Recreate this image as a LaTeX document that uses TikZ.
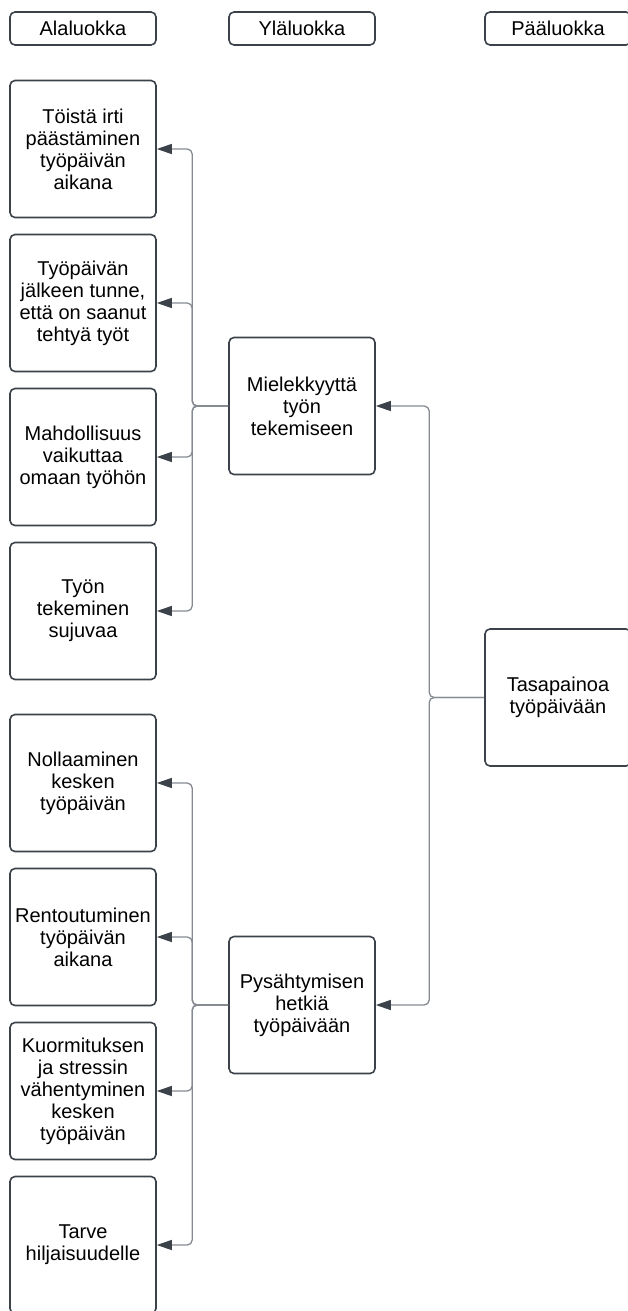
\documentclass[tikz,border=0pt]{standalone}
\usepackage{fontspec}
\setmainfont{Liberation Sans}
\usetikzlibrary{arrows.meta}

\definecolor{boxline}{HTML}{3C424A}
\definecolor{connline}{HTML}{858A91}
\definecolor{tipcol}{HTML}{3C424A}

\tikzset{
  luokka/.style={draw=boxline, line width=1.6pt, rounded corners=5pt,
    minimum width=146pt, minimum height=137pt, inner sep=0pt,
    align=center, font=\fontsize{20}{22}\selectfont},
  otsikko/.style={luokka, minimum height=33pt},
  conn/.style={draw=connline, line width=1.3pt, rounded corners=5pt,
    -{Triangle[length=15pt,width=10pt,color=tipcol]}}
}

\begin{document}
\begin{tikzpicture}[x=1pt,y=-1pt]
	\useasboundingbox (0,0) rectangle (627,1311);

	% headers
	\node[otsikko] (hAla) at (83,28.5) {Alaluokka};
	\node[otsikko] (hYla) at (302,28.5) {Yläluokka};
	\node[otsikko] (hPaa) at (558,28.5) {Pääluokka};

	% main category
	\node[luokka] (paa) at (558,697.5) {Tasapainoa\\työpäivään};

	% upper categories
	\node[luokka] (yla1) at (302,406) {Mielekkyyttä\\työn\\tekemiseen};
	\node[luokka] (yla2) at (302,1005) {Pysähtymisen\\hetkiä\\työpäivään};

	% sub categories
	\node[luokka] (ala1) at (83,149) {Töistä irti\\päästäminen\\työpäivän\\aikana};
	\node[luokka] (ala2) at (83,303) {Työpäivän\\jälkeen tunne,\\että on saanut\\tehtyä työt};
	\node[luokka] (ala3) at (83,457) {Mahdollisuus\\vaikuttaa\\omaan työhön};
	\node[luokka] (ala4) at (83,611) {Työn\\tekeminen\\sujuvaa};
	\node[luokka] (ala5) at (83,783) {Nollaaminen\\kesken\\työpäivän};
	\node[luokka] (ala6) at (83,937) {Rentoutuminen\\työpäivän\\aikana};
	\node[luokka] (ala7) at (83,1091) {Kuormituksen\\ja stressin\\vähentyminen\\kesken\\työpäivän};
	\node[luokka] (ala8) at (83,1245) {Tarve\\hiljaisuudelle};

	% connectors
	\foreach \y in {1,2}
		\draw[conn] (paa.west) -- ++(-55,0) |- (yla\y.east);
	\foreach \a in {1,2,3,4}
		\draw[conn] (yla1.west) -- ++(-36,0) |- (ala\a.east);
	\foreach \a in {5,6,7,8}
		\draw[conn] (yla2.west) -- ++(-36,0) |- (ala\a.east);

\end{tikzpicture}
\end{document}
